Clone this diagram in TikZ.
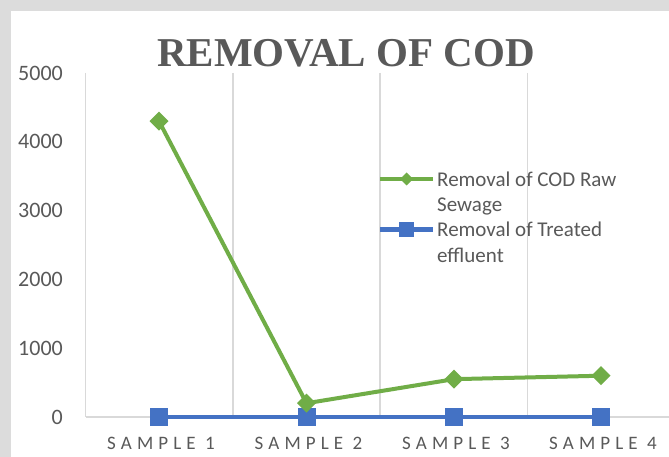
\documentclass[tikz,border=0pt]{standalone}
\usepackage{fontspec}
\setmainfont{Carlito}
\newfontfamily\titlefont{Liberation Serif}
\usetikzlibrary{calc}
\definecolor{codgreen}{HTML}{70AD47}
\definecolor{codblue}{HTML}{4472C4}
\definecolor{gridgray}{HTML}{D9D9D9}
\definecolor{labelgray}{HTML}{595959}
\definecolor{framegray}{HTML}{DCDCDC}
\newcommand\rawmark[2]{\fill[codgreen] (#1) +(-#2,0) -- +(0,-#2) -- +(#2,0) -- +(0,#2) -- cycle;}
\newcommand\treatmark[2]{\fill[codblue] (#1) +(-#2,-#2) rectangle +(#2,#2);}

\begin{document}
\begin{tikzpicture}[x=1pt,y=-1pt,
    gridline/.style={gridgray,line width=1.3pt},
    rawline/.style={codgreen,line width=4pt,line join=round},
    treatline/.style={codblue,line width=4.5pt},
    ticklabel/.style={labelgray,anchor=east,inner sep=0pt,font=\fontsize{22}{22}\selectfont},
    catlabel/.style={labelgray,anchor=base,inner sep=0pt,font=\addfontfeature{LetterSpace=27}\fontsize{19}{19}\selectfont},
    legendtext/.style={labelgray,anchor=base west,inner sep=0pt,font=\fontsize{21}{21}\selectfont}]
\useasboundingbox (0,0) rectangle (669,457);
\fill[white] (0,0) rectangle (669,457);
% frame of the page
\fill[framegray] (0,0) rectangle (669,11);
\fill[framegray] (0,0) rectangle (11,457);
% grid
\foreach \gx in {85.5,233,380,527.5}
  \draw[gridline] (\gx,73) -- (\gx,417);
\draw[gridline] (85.5,417) -- (669,417);
% value axis
\foreach \v in {0,1000,...,5000}
  \node[ticklabel] at (63,{417-\v*0.0688}) {\v};
% categories
\foreach \i/\cx in {1/159,2/306.5,3/454,4/601}
  \node[catlabel] (cat\i) at (\cx+2,449.5) {SAMPLE \i};
% title
\node[labelgray,anchor=base,inner sep=0pt,font=\titlefont\bfseries\fontsize{41}{41}\selectfont] (title) at (346,67) {REMOVAL OF COD};
% data points
\foreach \i/\cx/\raw in {1/159/4300,2/306.5/200,3/454/550,4/601/600}{
  \coordinate (raw\i) at (\cx,{417-\raw*0.0688});
  \coordinate (treat\i) at (\cx,417);
}
\draw[treatline] (treat1) -- (treat2) -- (treat3) -- (treat4);
\draw[rawline] (raw1) -- (raw2) -- (raw3) -- (raw4);
\foreach \i in {1,...,4}{
  \treatmark{treat\i}{9}
  \rawmark{raw\i}{9.5}
}
% legend
\coordinate (legrawA) at (380,179);
\coordinate (legrawB) at (433,179);
\coordinate (legtreatA) at (380,229.5);
\coordinate (legtreatB) at (433,229.5);
\draw[rawline] (legrawA) -- (legrawB);
\rawmark{$(legrawA)!0.5!(legrawB)$}{6.5}
\draw[treatline] (legtreatA) -- (legtreatB);
\treatmark{$(legtreatA)!0.5!(legtreatB)$}{7.5}
\node[legendtext] (legraw1) at (437,186) {Removal of COD Raw};
\node[legendtext] (legraw2) at (437,211.5) {Sewage};
\node[legendtext] (legtreat1) at (437,236.5) {Removal of Treated};
\node[legendtext] (legtreat2) at (437,262.5) {effluent};
\end{tikzpicture}
\end{document}
